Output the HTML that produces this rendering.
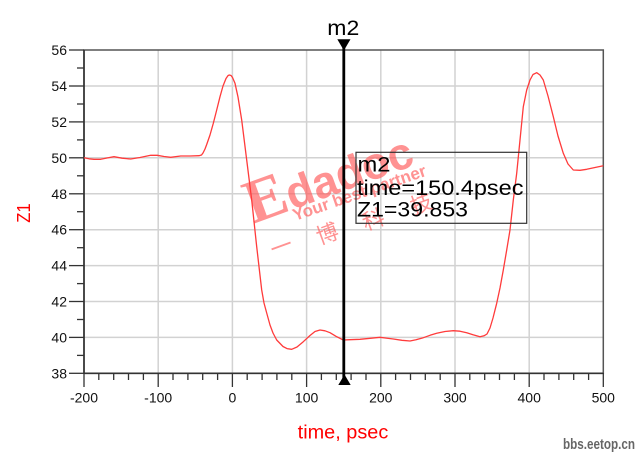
<!DOCTYPE html>
<html><head><meta charset="utf-8"><style>
html,body{margin:0;padding:0;background:#fff;}
svg{display:block;}
</style></head><body>
<svg width="640" height="457" viewBox="0 0 640 457" xmlns="http://www.w3.org/2000/svg" font-family="'Liberation Sans', Arial, sans-serif">
<rect width="640" height="457" fill="#fff"/>
<!-- grid -->
<g stroke="#d2d2d2" stroke-width="1.5">
<line x1="158.2" y1="50" x2="158.2" y2="373.3"/>
<line x1="232.4" y1="50" x2="232.4" y2="373.3"/>
<line x1="306.6" y1="50" x2="306.6" y2="373.3"/>
<line x1="380.8" y1="50" x2="380.8" y2="373.3"/>
<line x1="455" y1="50" x2="455" y2="373.3"/>
<line x1="529.2" y1="50" x2="529.2" y2="373.3"/>
<line x1="84" y1="86" x2="603.3" y2="86"/>
<line x1="84" y1="121.9" x2="603.3" y2="121.9"/>
<line x1="84" y1="157.8" x2="603.3" y2="157.8"/>
<line x1="84" y1="193.8" x2="603.3" y2="193.8"/>
<line x1="84" y1="229.7" x2="603.3" y2="229.7"/>
<line x1="84" y1="265.6" x2="603.3" y2="265.6"/>
<line x1="84" y1="301.5" x2="603.3" y2="301.5"/>
<line x1="84" y1="337.4" x2="603.3" y2="337.4"/>
</g>
<!-- watermark -->
<g fill="#ff5a5a" fill-opacity="0.66">
<text transform="translate(253,224) rotate(-20)"><tspan font-family="'Liberation Serif', serif" font-weight="bold" font-size="62">E</tspan><tspan font-family="'Liberation Sans', sans-serif" font-weight="bold" font-size="45">dadoc</tspan></text>
<text transform="translate(295,221) rotate(-19)" font-weight="bold" font-size="17" textLength="140" lengthAdjust="spacingAndGlyphs">Your best partner</text>
<g font-family="'Liberation Sans','Noto Sans CJK SC',sans-serif" font-size="22" text-anchor="middle">
<text transform="translate(284,254) rotate(-20)">一</text>
<text transform="translate(330,241) rotate(-20)">博</text>
<text transform="translate(376,227) rotate(-20)">科</text>
<text transform="translate(424,211) rotate(-20)">技</text>
</g>
</g>
<!-- frame -->
<rect x="84" y="50" width="519.3" height="323.3" fill="none" stroke="#555" stroke-width="1.5"/>
<line x1="84" y1="50" x2="84" y2="373.3" stroke="#333" stroke-width="1.6"/>
<line x1="84" y1="373.3" x2="603.3" y2="373.3" stroke="#333" stroke-width="1.6"/>
<!-- y ticks -->
<g stroke="#333" stroke-width="1.3">
<line x1="69" y1="50" x2="84" y2="50"/><line x1="77" y1="68" x2="84" y2="68"/>
<line x1="69" y1="86" x2="84" y2="86"/><line x1="77" y1="104" x2="84" y2="104"/>
<line x1="69" y1="121.9" x2="84" y2="121.9"/><line x1="77" y1="139.9" x2="84" y2="139.9"/>
<line x1="69" y1="157.8" x2="84" y2="157.8"/><line x1="77" y1="175.8" x2="84" y2="175.8"/>
<line x1="69" y1="193.8" x2="84" y2="193.8"/><line x1="77" y1="211.7" x2="84" y2="211.7"/>
<line x1="69" y1="229.7" x2="84" y2="229.7"/><line x1="77" y1="247.7" x2="84" y2="247.7"/>
<line x1="69" y1="265.6" x2="84" y2="265.6"/><line x1="77" y1="283.6" x2="84" y2="283.6"/>
<line x1="69" y1="301.5" x2="84" y2="301.5"/><line x1="77" y1="319.5" x2="84" y2="319.5"/>
<line x1="69" y1="337.4" x2="84" y2="337.4"/><line x1="77" y1="355.4" x2="84" y2="355.4"/>
<line x1="69" y1="373.3" x2="84" y2="373.3"/>
</g>
<!-- x ticks -->
<g stroke="#333" stroke-width="1.3">
<line x1="84" y1="373" x2="84" y2="387"/>
<line x1="98.8" y1="373" x2="98.8" y2="380"/><line x1="113.7" y1="373" x2="113.7" y2="380"/><line x1="128.5" y1="373" x2="128.5" y2="380"/><line x1="143.4" y1="373" x2="143.4" y2="380"/>
<line x1="158.2" y1="373" x2="158.2" y2="387"/>
<line x1="173" y1="373" x2="173" y2="380"/><line x1="187.9" y1="373" x2="187.9" y2="380"/><line x1="202.7" y1="373" x2="202.7" y2="380"/><line x1="217.6" y1="373" x2="217.6" y2="380"/>
<line x1="232.4" y1="373" x2="232.4" y2="387"/>
<line x1="247.2" y1="373" x2="247.2" y2="380"/><line x1="262.1" y1="373" x2="262.1" y2="380"/><line x1="276.9" y1="373" x2="276.9" y2="380"/><line x1="291.8" y1="373" x2="291.8" y2="380"/>
<line x1="306.6" y1="373" x2="306.6" y2="387"/>
<line x1="321.4" y1="373" x2="321.4" y2="380"/><line x1="336.3" y1="373" x2="336.3" y2="380"/><line x1="351.1" y1="373" x2="351.1" y2="380"/><line x1="366" y1="373" x2="366" y2="380"/>
<line x1="380.8" y1="373" x2="380.8" y2="387"/>
<line x1="395.6" y1="373" x2="395.6" y2="380"/><line x1="410.5" y1="373" x2="410.5" y2="380"/><line x1="425.3" y1="373" x2="425.3" y2="380"/><line x1="440.2" y1="373" x2="440.2" y2="380"/>
<line x1="455" y1="373" x2="455" y2="387"/>
<line x1="469.8" y1="373" x2="469.8" y2="380"/><line x1="484.7" y1="373" x2="484.7" y2="380"/><line x1="499.5" y1="373" x2="499.5" y2="380"/><line x1="514.4" y1="373" x2="514.4" y2="380"/>
<line x1="529.2" y1="373" x2="529.2" y2="387"/>
<line x1="544" y1="373" x2="544" y2="380"/><line x1="558.9" y1="373" x2="558.9" y2="380"/><line x1="573.7" y1="373" x2="573.7" y2="380"/><line x1="588.6" y1="373" x2="588.6" y2="380"/>
<line x1="603.3" y1="373" x2="603.3" y2="387"/>
</g>
<!-- y labels -->
<g font-size="14" fill="#111" text-anchor="end">
<text x="67" y="55">56</text>
<text x="67" y="91">54</text>
<text x="67" y="126.9">52</text>
<text x="67" y="162.8">50</text>
<text x="67" y="198.8">48</text>
<text x="67" y="234.7">46</text>
<text x="67" y="270.6">44</text>
<text x="67" y="306.5">42</text>
<text x="67" y="342.4">40</text>
<text x="67" y="378.3">38</text>
</g>
<!-- x labels -->
<g font-size="14" fill="#111" text-anchor="middle">
<text x="84" y="402.7">-200</text>
<text x="158.2" y="402.7">-100</text>
<text x="232.4" y="402.7">0</text>
<text x="306.6" y="402.7">100</text>
<text x="380.8" y="402.7">200</text>
<text x="455" y="402.7">300</text>
<text x="529.2" y="402.7">400</text>
<text x="603.3" y="402.7">500</text>
</g>
<!-- axis titles -->
<text x="297.7" y="438.3" font-size="19" fill="#ff0000" textLength="90.6" lengthAdjust="spacingAndGlyphs">time, psec</text>
<text transform="translate(30,213) rotate(-90)" font-size="18" fill="#ff0000" text-anchor="middle" textLength="19.4" lengthAdjust="spacingAndGlyphs">Z1</text>
<!-- curve -->
<polyline fill="none" stroke="#ff3b3b" stroke-width="1.3" stroke-linejoin="round" points="84,157.7 89,158.8 94,159.3 100.7,159.3 107,158 114,156.7 122,158.2 130.7,159 140,157.5 150.7,155.3 157.3,155.3 164,156.5 170.7,157.3 180.7,156 190,156 199,155.7 201.5,155 203,153 205,149 206.7,144.5 210,135 213.3,123.3 216.7,110 220,96.7 223,86 226,78.5 228,75.6 229.3,75 231,75.5 232.5,77.5 235,83.3 238,97 241.7,120 246.7,160 251.7,200 256.7,246.7 261.7,290 264,303 266.7,313 270,325 273,333 276.7,340 283,346.5 287,348.6 291.7,349.3 297,347 303.3,341.7 310,335.5 315,331.5 320,330 325,330.8 330,332.7 336,336.3 343.3,340 350,339.7 360,339.3 370,338.3 380,337.3 393.3,339 402,340.3 410,341 416,339.8 423.3,337.7 430,335.3 436.7,333.3 445,331.5 453.3,330.7 460,331.2 466.7,332.7 473,334.8 480,336.7 484,335.8 487,334 490,328 493,318 496.7,303.3 500,288 503.3,270 506.7,250 510,230 513.3,200 516.7,173.3 520,140 523.3,106.7 526.7,90 530,80 533,74.5 536.7,72.7 540,75 543.3,80 548,96 553.3,116.7 558,136 563.3,153.3 568,164 573.3,170 580,170.3 586.7,169.3 595,167.5 603.3,165.7"/>
<!-- marker -->
<line x1="343.8" y1="40" x2="343.8" y2="384" stroke="#000" stroke-width="2.8"/>
<polygon points="337.3,39.3 350.5,39.3 343.9,50.5" fill="#000"/>
<polygon points="338.3,385 350.7,385 344.5,374.5" fill="#000"/>
<text x="327.3" y="35" font-size="21" fill="#000" textLength="32" lengthAdjust="spacingAndGlyphs">m2</text>
<!-- info box -->
<rect x="356" y="152.3" width="170.7" height="71" fill="none" stroke="#333" stroke-width="1.2"/>
<g font-size="21" fill="#000">
<text x="357.5" y="171.7" textLength="33" lengthAdjust="spacingAndGlyphs">m2</text>
<text x="357" y="195" textLength="166.5" lengthAdjust="spacingAndGlyphs">time=150.4psec</text>
<text x="357" y="216.7" textLength="111" lengthAdjust="spacingAndGlyphs">Z1=39.853</text>
</g>
<!-- site mark -->
<text x="563" y="449" font-size="15" font-weight="bold" fill="#666" textLength="72" lengthAdjust="spacingAndGlyphs">bbs.eetop.cn</text>
</svg>
</body></html>
